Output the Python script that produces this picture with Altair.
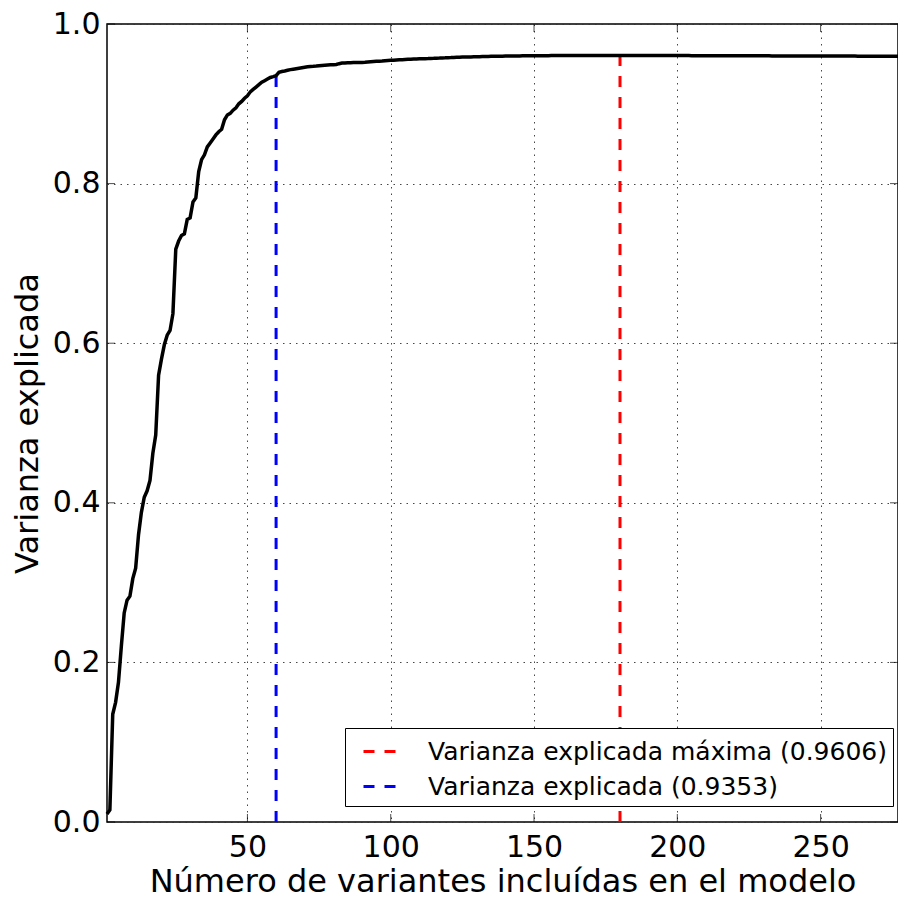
import altair as alt
import pandas as pd

# ---- data ----
N_VARIANTS = list(range(1, 278))
VARIANCE = [
    0.010, 0.015, 0.135, 0.150, 0.175, 0.220, 0.262, 0.278, 0.283, 0.305,
    0.318, 0.360, 0.388, 0.407, 0.415, 0.428, 0.462, 0.485, 0.560, 0.580,
    0.598, 0.610, 0.616, 0.637, 0.718, 0.728, 0.735, 0.737, 0.755, 0.757,
    0.777, 0.782, 0.815, 0.830, 0.836, 0.846, 0.851, 0.856, 0.861, 0.865,
    0.868, 0.880, 0.886, 0.888, 0.892, 0.895, 0.900, 0.903, 0.907, 0.910,
    0.915, 0.918, 0.921, 0.924, 0.927, 0.929, 0.931, 0.933, 0.934, 0.9353,
    0.9395, 0.9405, 0.9412, 0.9420, 0.9428, 0.9434, 0.9440, 0.9446, 0.9452, 0.9458,
    0.9463, 0.9468, 0.9470, 0.9473, 0.9477, 0.9480, 0.9483, 0.9486, 0.9488, 0.9490,
    0.9493, 0.9503, 0.9510, 0.9512, 0.9514, 0.9515, 0.9516, 0.9517, 0.9518, 0.9519,
    0.9521, 0.9524, 0.9527, 0.9530, 0.9532, 0.9534, 0.9536, 0.9540, 0.9543, 0.9545,
    0.9547, 0.9549, 0.9551, 0.9553, 0.9555, 0.9557, 0.9558, 0.9560, 0.9561, 0.9563,
    0.9564, 0.9566, 0.9567, 0.9569, 0.9570, 0.9572, 0.9573, 0.9575, 0.9576, 0.9578,
    0.9579, 0.9581, 0.9582, 0.9583, 0.9585, 0.9586, 0.9587, 0.9588, 0.9589, 0.9590,
    0.9591, 0.9592, 0.9593, 0.9594, 0.9595, 0.9595, 0.9596, 0.9597, 0.9597, 0.9598,
    0.9598, 0.9599, 0.9599, 0.9600, 0.9600, 0.9601, 0.9601, 0.9601, 0.9602, 0.9602,
    0.9602, 0.9603, 0.9603, 0.9603, 0.9603, 0.9604, 0.9604, 0.9604, 0.9604, 0.9604,
    0.9604, 0.9605, 0.9605, 0.9605, 0.9605, 0.9605, 0.9605, 0.9605, 0.9605, 0.9605,
    0.9605, 0.9605, 0.9606, 0.9606, 0.9606, 0.9606, 0.9606, 0.9606, 0.9606, 0.9606,
    0.9606, 0.9606, 0.9606, 0.9606, 0.9605, 0.9605, 0.9605, 0.9605, 0.9605, 0.9605,
    0.9605, 0.9605, 0.9605, 0.9605, 0.9605, 0.9604, 0.9604, 0.9604, 0.9604, 0.9604,
    0.9604, 0.9604, 0.9604, 0.9604, 0.9603, 0.9603, 0.9603, 0.9603, 0.9603, 0.9603,
    0.9603, 0.9603, 0.9603, 0.9602, 0.9602, 0.9602, 0.9602, 0.9602, 0.9602, 0.9602,
    0.9602, 0.9602, 0.9601, 0.9601, 0.9601, 0.9601, 0.9601, 0.9601, 0.9601, 0.9601,
    0.9601, 0.9601, 0.9600, 0.9600, 0.9600, 0.9600, 0.9600, 0.9600, 0.9600, 0.9600,
    0.9600, 0.9600, 0.9599, 0.9599, 0.9599, 0.9599, 0.9599, 0.9599, 0.9599, 0.9599,
    0.9599, 0.9599, 0.9598, 0.9598, 0.9598, 0.9598, 0.9598, 0.9598, 0.9598, 0.9598,
    0.9598, 0.9598, 0.9597, 0.9597, 0.9597, 0.9597, 0.9597, 0.9597, 0.9597, 0.9597,
    0.9597, 0.9597, 0.9596, 0.9596, 0.9596, 0.9596, 0.9596,
]

REF_LABELS = ["Varianza explicada máxima (0.9606)", "Varianza explicada (0.9353)"]
REF_X = [180, 60]
REF_Y = [0.9606, 0.9353]
REF_COLORS = ["#ff0000", "#0000ff"]

X_TICKS = [50, 100, 150, 200, 250]
Y_TICKS = [0.0, 0.2, 0.4, 0.6, 0.8, 1.0]
X_DOMAIN = [1, 277]
Y_DOMAIN = [0.0, 1.0]

X_TITLE = "Número de variantes incluídas en el modelo"
Y_TITLE = "Varianza explicada"

FONT = "DejaVu Sans"

curve_df = pd.DataFrame({"n": N_VARIANTS, "v": VARIANCE})
ref_df = pd.DataFrame({"n": REF_X, "v": REF_Y, "label": REF_LABELS, "zero": [0.0, 0.0]})
xt_df = pd.DataFrame({"t": X_TICKS})
yt_df = pd.DataFrame({"t": Y_TICKS})

x_scale = alt.Scale(domain=X_DOMAIN, nice=False, zero=False)
y_scale = alt.Scale(domain=Y_DOMAIN, nice=False)

x_axis = alt.Axis(values=X_TICKS, format="d", title=X_TITLE, grid=True,
                  ticks=False, tickSize=0, domain=False, labelPadding=10,
                  titlePadding=4)
y_axis = alt.Axis(values=Y_TICKS, format=".1f", title=Y_TITLE, grid=True,
                  ticks=False, tickSize=0, domain=False, labelPadding=7,
                  titlePadding=8)

line = alt.Chart(curve_df).mark_line(color="black", strokeWidth=3.5).encode(
    x=alt.X("n:Q", scale=x_scale, axis=x_axis),
    y=alt.Y("v:Q", scale=y_scale, axis=y_axis),
)

rules = alt.Chart(ref_df).mark_rule(strokeWidth=3, strokeDash=[11, 10]).encode(
    x=alt.X("n:Q", scale=x_scale),
    y=alt.Y("zero:Q", scale=y_scale),
    y2="v:Q",
    color=alt.Color("label:N",
                    scale=alt.Scale(domain=REF_LABELS, range=REF_COLORS),
                    legend=alt.Legend(title=None)),
)

tick_kw = dict(color="black", thickness=1, size=8)
x_bot = alt.Chart(xt_df).mark_tick(orient="vertical", yOffset=-4, **tick_kw).encode(
    x=alt.X("t:Q", scale=x_scale), y=alt.datum(0.0, scale=y_scale))
x_top = alt.Chart(xt_df).mark_tick(orient="vertical", yOffset=4, **tick_kw).encode(
    x=alt.X("t:Q", scale=x_scale), y=alt.datum(1.0, scale=y_scale))
y_left = alt.Chart(yt_df).mark_tick(orient="horizontal", xOffset=4, **tick_kw).encode(
    y=alt.Y("t:Q", scale=y_scale), x=alt.datum(1, scale=x_scale))
y_right = alt.Chart(yt_df).mark_tick(orient="horizontal", xOffset=-4, **tick_kw).encode(
    y=alt.Y("t:Q", scale=y_scale), x=alt.datum(277, scale=x_scale))

chart = alt.layer(x_bot, x_top, y_left, y_right, rules, line).properties(
    width=791,
    height=798,
    autosize=alt.AutoSizeParams(type="none"),
    padding={"left": 107, "top": 24, "right": 0, "bottom": 78},
    background="white",
).configure_view(
    stroke="black", strokeWidth=1.5, fill="white"
).configure_axis(
    labelFont=FONT, titleFont=FONT, labelFontSize=30, titleFontSize=32,
    labelColor="black", titleColor="black", titleFontWeight="normal",
    gridColor="#333333", gridDash=[1.5, 5], gridWidth=1, gridOpacity=0.9,
).configure_legend(
    orient="none", legendX=238, legendY=704,
    labelFont=FONT, labelFontSize=25, labelColor="black", labelLimit=700,
    symbolType="stroke", symbolSize=1024, symbolStrokeWidth=3,
    symbolDash=[11, 10], symbolOffset=11, labelOffset=31, rowPadding=4,
    padding=6, strokeColor="black", fillColor="white", cornerRadius=0,
)

chart.save("out.html", embed_options={"renderer": "svg", "actions": False})
